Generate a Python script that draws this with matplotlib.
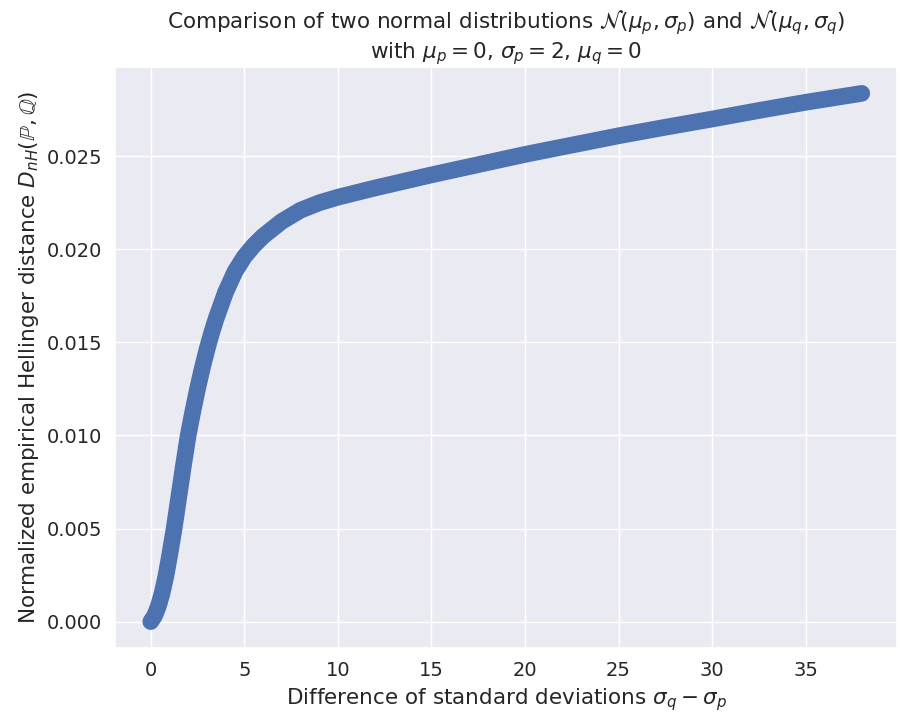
# Hellinger distance between two normals as sigma_q grows
import matplotlib
matplotlib.use("Agg")
import matplotlib.pyplot as plt
import seaborn as sns

# values
sigma_diff = [0, 0.2, 0.4, 0.6, 0.8, 1.0, 1.25, 1.5, 1.75, 2.0, 2.25, 2.5, 2.75,
              3.0, 3.25, 3.5, 3.75, 4.0, 4.5, 5.0, 5.5, 6.0, 6.5, 7.0, 7.5, 8.0,
              9.0, 10.0, 11.0, 12.0, 13.5, 15.0, 17.5, 20.0, 22.5, 25.0, 27.5,
              30.0, 32.5, 35.0, 38.0]
hellinger = [0.0000, 0.0003, 0.0008, 0.0015, 0.0024, 0.0035, 0.0050, 0.0067,
             0.0084, 0.0100, 0.0113, 0.0125, 0.0136, 0.0146, 0.0155, 0.0163,
             0.0170, 0.0177, 0.0188, 0.0196, 0.0202, 0.0207, 0.0211, 0.0215,
             0.0218, 0.0221, 0.0225, 0.0228, 0.02305, 0.0233, 0.02365, 0.0240,
             0.02455, 0.0251, 0.0256, 0.0261, 0.02656, 0.0270, 0.02746, 0.0279,
             0.02838]

sns.set_theme(style="darkgrid")
plt.rcParams["mathtext.fontset"] = "dejavusans"

fig, ax = plt.subplots(figsize=(9, 7.2), dpi=100)
ax.plot(sigma_diff, hellinger, color="#4C72B0", linewidth=12,
        solid_capstyle="round", solid_joinstyle="round")
ax.set_title("Comparison of two normal distributions "
             r"$\mathcal{N}(\mu_p, \sigma_p)$ and $\mathcal{N}(\mu_q, \sigma_q)$"
             "\n" r"with $\mu_p = 0$, $\sigma_p = 2$, $\mu_q = 0$", fontsize=15.5)
ax.set_xlabel(r"Difference of standard deviations $\sigma_q - \sigma_p$", fontsize=15.5)
ax.set_ylabel(r"Normalized empirical Hellinger distance $D_{nH}(\mathbb{P}, \mathbb{Q})$",
              fontsize=15.5)
ax.tick_params(labelsize=14)
fig.subplots_adjust(left=0.128, right=0.997, top=0.907, bottom=0.1)
fig.savefig("out.png")
